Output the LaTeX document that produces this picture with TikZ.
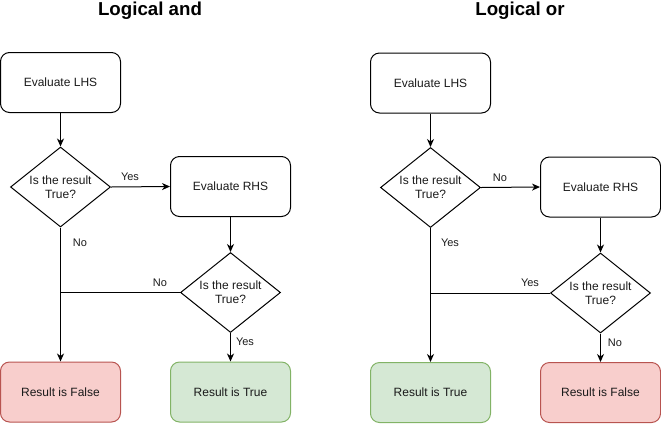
\documentclass[tikz,border=0pt]{standalone}
\usepackage{fontspec}
\setmainfont{Liberation Sans}
\usetikzlibrary{shapes.geometric,arrows.meta}
\definecolor{redfill}{HTML}{F8CECC}
\definecolor{redline}{HTML}{B85450}
\definecolor{greenfill}{HTML}{D5E8D4}
\definecolor{greenline}{HTML}{82B366}
\definecolor{txt}{HTML}{1A1A1A}
\begin{document}
\begin{tikzpicture}[x=1pt,y=-1pt,line width=1pt,
  box/.style={draw,rounded corners=9pt,minimum width=120pt,minimum height=60pt,inner sep=0pt,
    font=\fontsize{12}{14}\selectfont,text=txt},
  redbox/.style={box,fill=redfill,draw=redline},
  greenbox/.style={box,fill=greenfill,draw=greenline},
  dia/.style={draw,shape=diamond,minimum width=100pt,minimum height=80pt,inner sep=0pt,aspect=1.25,
    align=center,font=\fontsize{12}{14}\selectfont,text=txt},
  lbl/.style={font=\fontsize{11}{13}\selectfont,text=txt,inner sep=0pt},
  ttl/.style={font=\fontsize{18.7}{22}\selectfont\bfseries,inner sep=0pt},
  arr/.style={-{Stealth[length=8pt,width=7pt,inset=2.5pt]}}]
\useasboundingbox (0,0) rectangle (661,424);
% ---------- Logical and ----------
\node[ttl] (tA) at (150,11) {Logical and};
\node[box] (lhsA) at (60.5,82.5) {Evaluate LHS};
\node[dia] (d1A) at (60.5,187) {Is the result\\True?};
\node[box] (rhsA) at (230.5,186.5) {Evaluate RHS};
\node[dia] (d2A) at (230.5,292.5) {Is the result\\True?};
\node[redbox] (fA) at (60.5,392) {Result is False};
\node[greenbox] (tRA) at (230.5,392) {Result is True};
\draw[arr] (lhsA) -- (d1A);
\draw[arr] (d1A.east) -- (rhsA.west);
\draw[arr] (d1A.south) -- (fA.north);
\draw[arr] (rhsA) -- (d2A);
\draw (d2A.west) -- (d2A.west -| d1A.south);
\draw[arr] (d2A.south) -- (tRA.north);
\node[lbl] (yA1) at (130,177) {Yes};
\node[lbl] (nA1) at (80,243) {No};
\node[lbl] (nA2) at (160,283) {No};
\node[lbl] (yA2) at (245,342) {Yes};
% ---------- Logical or ----------
\node[ttl] (tO) at (520,11) {Logical or};
\node[box] (lhsO) at (430.5,83) {Evaluate LHS};
\node[dia] (d1O) at (430.5,187.5) {Is the result\\True?};
\node[box] (rhsO) at (600.5,187) {Evaluate RHS};
\node[dia] (d2O) at (600.5,293) {Is the result\\True?};
\node[greenbox] (tRO) at (430.5,392.5) {Result is True};
\node[redbox] (fO) at (600.5,392.5) {Result is False};
\draw[arr] (lhsO) -- (d1O);
\draw[arr] (d1O.east) -- (rhsO.west);
\draw[arr] (d1O.south) -- (tRO.north);
\draw[arr] (rhsO) -- (d2O);
\draw (d2O.west) -- (d2O.west -| d1O.south);
\draw[arr] (d2O.south) -- (fO.north);
\node[lbl] (nO1) at (500,178) {No};
\node[lbl] (yO1) at (450,243) {Yes};
\node[lbl] (yO2) at (530,283) {Yes};
\node[lbl] (nO2) at (615,343) {No};
\end{tikzpicture}
\end{document}
